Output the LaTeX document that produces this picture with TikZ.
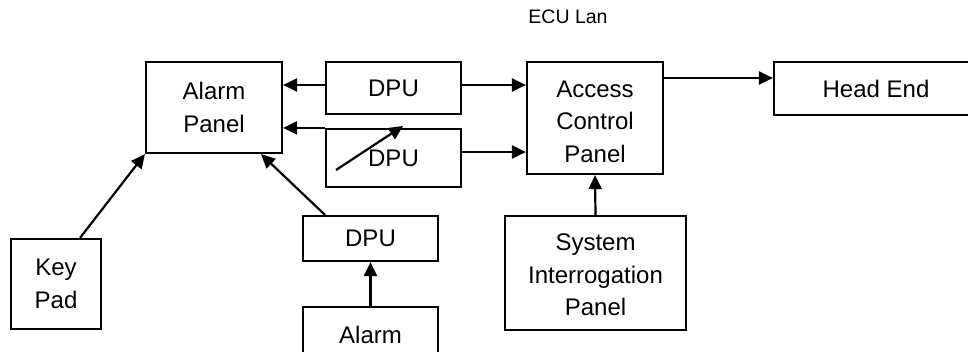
\documentclass[tikz,border=0pt]{standalone}
\usepackage{fontspec}
\setmainfont{Liberation Sans}
\usetikzlibrary{arrows.meta}
% centred stack of lines with extra headroom on top (moves it down by half of #1)
\newcommand{\droppedlines}[2]{\raisebox{0pt}[\dimexpr\height+#1\relax][\depth]{\begin{tabular}{@{}c@{}}#2\end{tabular}}}
\begin{document}
\begin{tikzpicture}[x=1pt,y=-1pt,
  block/.style={draw=black,line width=2.2pt,rectangle,align=center,
    inner sep=0pt,font=\fontsize{24}{32.5}\selectfont},
  arr/.style={line width=2.2pt,-{Triangle[length=14pt,width=13pt]}},
  caption/.style={font=\fontsize{19.5}{24}\selectfont}]
  \useasboundingbox (0,0) rectangle (968,351);
  \clip (0,0) rectangle (968,351);

  % blocks
  \node[block,minimum width=136pt,minimum height=91pt]  (alarmpanel) at (214,107.5) {Alarm\\Panel};
  \node[block,minimum width=135pt,minimum height=52pt]  (dpua) at (393.5,88) {DPU};
  \node[block,minimum width=135pt,minimum height=58pt]  (dpub) at (393.5,158) {DPU};
  \node[block,minimum width=136pt,minimum height=112pt] (acp) at (595,118)
    {\droppedlines{10pt}{Access\\Control\\Panel}};
  \node[block,minimum width=204pt,minimum height=53pt]  (headend) at (876,88.5) {Head End};
  \node[block,minimum width=90pt,minimum height=90pt]   (keypad) at (56,284) {Key\\Pad};
  \node[block,minimum width=135pt,minimum height=45pt]  (dpuc) at (370.5,238.5) {DPU};
  \node[block,minimum width=135pt,minimum height=55pt]  (alarm) at (370.5,334.5) {Alarm};
  \node[block,minimum width=181pt,minimum height=114pt] (sip) at (595.5,273)
    {\droppedlines{7pt}{System\\Interrogation\\Panel}};
  \node[caption] (ecu) at (568,17) {ECU Lan};

  % attachment points on the block borders
  \coordinate (dpuaW) at ([yshift=3pt]dpua.west);
  \coordinate (dpuaE) at ([yshift=3pt]dpua.east);
  \coordinate (dpubE) at ([yshift=6pt]dpub.east);
  \coordinate (acpE)  at ([yshift=40pt]acp.east);
  \coordinate (keyN)  at ([xshift=24pt]keypad.north);
  \coordinate (dpucN) at ([xshift=-45.5pt]dpuc.north);
  \coordinate (apS)   at ([xshift=47pt]alarmpanel.south);
  % ends of the free-standing diagonal arrow
  \coordinate (diagA) at (336,170);
  \coordinate (diagB) at (403,126);

  % connectors
  \draw[arr] (dpuaW) -- (alarmpanel.east |- dpuaW);
  \draw[arr] (dpub.north west) -- (alarmpanel.east |- dpub.north west);
  \draw[arr] (diagA) -- (diagB);
  \draw[arr] (dpuaE) -- (acp.west |- dpuaE);
  \draw[arr] (dpubE) -- (acp.west |- dpubE);
  \draw[arr] (acpE) -- (headend.west |- acpE);
  \draw[arr] (keyN) -- (alarmpanel.south west);
  \draw[arr] (dpucN) -- (apS);
  \draw[arr] (alarm.north) -- (dpuc.south);
  \draw[arr] (sip.north) -- (acp.south);
\end{tikzpicture}
\end{document}
